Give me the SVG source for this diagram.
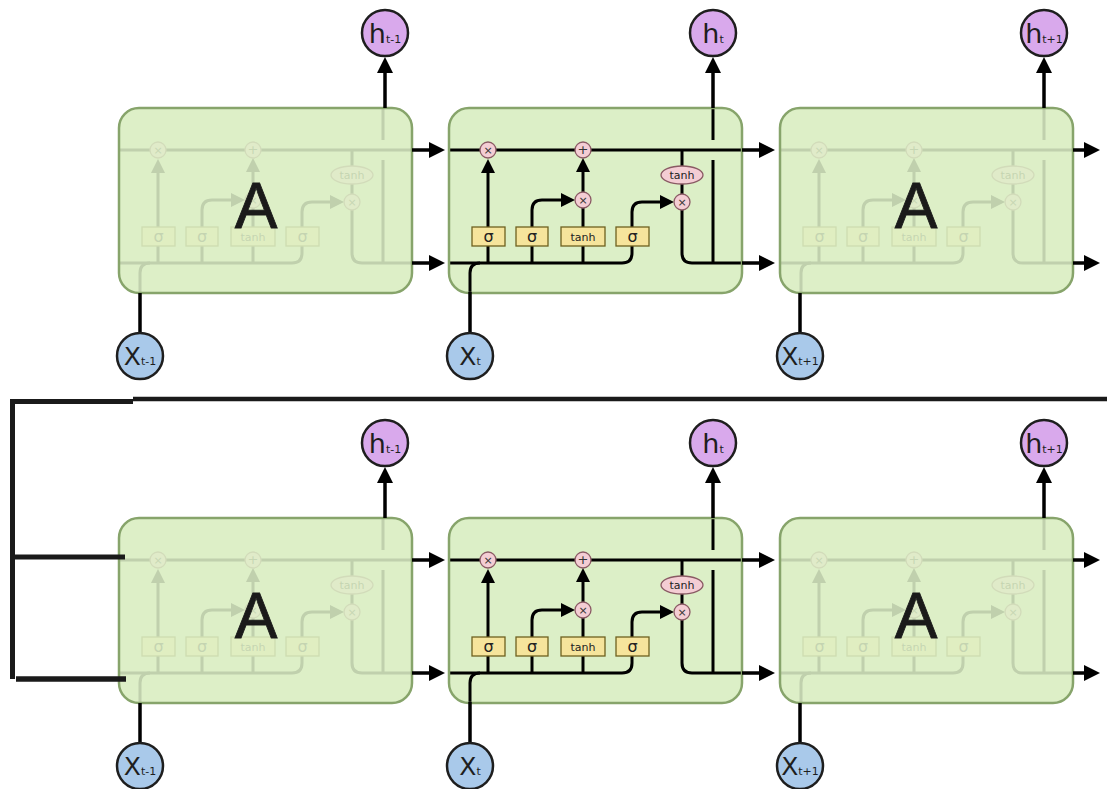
<svg xmlns="http://www.w3.org/2000/svg" xmlns:xlink="http://www.w3.org/1999/xlink" width="1107" height="789" viewBox="0 0 1107 789">
<style>
.ln{fill:none;stroke:#000;stroke-width:3}
.cellbg{fill:#dcefc7;stroke:none}
.cellfr{fill:#dcefc7;fill-opacity:0.87;stroke:#87a46b;stroke-width:2.5}
.cellst{fill:none;stroke:#87a46b;stroke-width:2.5}
.op{fill:#f4cdd4;stroke:#8a5a64;stroke-width:1.3}
.gate{fill:#f6e49c;stroke:#6e6020;stroke-width:1.3}
.opt{font-family:"DejaVu Sans",sans-serif;font-size:11px;fill:#333;text-anchor:middle}
.gt{font-family:"DejaVu Sans",sans-serif;font-size:16px;fill:#222;text-anchor:middle}
.tt{font-family:"DejaVu Sans",sans-serif;font-size:11px;fill:#222;text-anchor:middle}
.hc{fill:#d9a9ec;stroke:#1e1e1e;stroke-width:2.5}
.xc{fill:#a9c9ea;stroke:#1e1e1e;stroke-width:2.5}
.big{font-family:"DejaVu Sans",sans-serif;font-size:27px;fill:#1e1e1e;text-anchor:middle}
.bigx{font-family:"DejaVu Sans",sans-serif;font-size:25px;fill:#1e1e1e;text-anchor:middle}
.sub{font-size:11px}
.A{font-family:"Liberation Sans",Arial,sans-serif;font-size:64px;fill:#1a1a1a;text-anchor:middle;stroke:#1a1a1a;stroke-width:0.8}
.con{fill:none;stroke:#000;stroke-width:3.5}
.brk{fill:none;stroke:#1a1a1a;stroke-width:5}
</style>
<defs>
<marker id="ai" viewBox="0 0 14 14" refX="0" refY="7" markerWidth="14" markerHeight="14" markerUnits="userSpaceOnUse" orient="auto"><path d="M0,0 L14,7 L0,14 z" fill="#000"/></marker>
<marker id="ao" viewBox="0 0 16 16" refX="0" refY="8" markerWidth="16" markerHeight="16" markerUnits="userSpaceOnUse" orient="auto"><path d="M0,0 L16,8 L0,16 z" fill="#000"/></marker>
<g id="core">
<g class="ln">
<path d="M449,150 H742"/>
<path d="M449,263 H622 Q632,263 632,253 V246"/>
<path d="M488,263 V246 M532,263 V246 M583,263 V246"/>
<path d="M470,292 V273 Q470,263 480,263"/>
<path d="M488,227 V173" marker-end="url(#ai)"/>
<path d="M532,227 V210 Q532,200 542,200 H561" marker-end="url(#ai)"/>
<path d="M583,227 V208"/>
<path d="M583,192 V172" marker-end="url(#ai)"/>
<path d="M632,227 V212 Q632,202 642,202 H660" marker-end="url(#ai)"/>
<path d="M682,150 V166 M682,184 V194"/>
<path d="M682,210 V253 Q682,263 692,263 H742"/>
<path d="M713,108 V140 M713,160 V263"/>
</g>
<circle class="op" cx="488" cy="150" r="8"/>
<circle class="op" cx="583" cy="150" r="8"/>
<circle class="op" cx="583" cy="200" r="8"/>
<circle class="op" cx="682" cy="202" r="8"/>
<ellipse class="op" cx="682" cy="175" rx="21" ry="9"/>
<text class="opt" x="488" y="154">×</text>
<text class="opt" x="583" y="154" style="font-size:13px">+</text>
<text class="opt" x="583" y="204">×</text>
<text class="opt" x="682" y="206">×</text>
<text class="tt" x="682" y="179">tanh</text>
<rect class="gate" x="472" y="227" width="33" height="19"/>
<rect class="gate" x="516" y="227" width="32" height="19"/>
<rect class="gate" x="561" y="227" width="44" height="19"/>
<rect class="gate" x="616" y="227" width="33" height="19"/>
<text class="gt" x="488.5" y="242">σ</text>
<text class="gt" x="532" y="242">σ</text>
<text class="tt" x="583" y="241">tanh</text>
<text class="gt" x="632.5" y="242">σ</text>
</g>
</defs>

<g id="cell-top-1">
<rect class="cellbg" x="119" y="108" width="293" height="185" rx="20"/>
<use href="#core" x="-330" y="0"/>
<rect class="cellfr" x="119" y="108" width="293" height="185" rx="20"/>
<text class="A" x="256" y="228">A</text>
</g>
<g id="cell-top-2">
<rect class="cellbg" x="449" y="108" width="293" height="185" rx="20"/>
<use href="#core"/>
<rect class="cellst" x="449" y="108" width="293" height="185" rx="20"/>
</g>
<g id="cell-top-3">
<rect class="cellbg" x="780" y="108" width="293" height="185" rx="20"/>
<use href="#core" x="331" y="0"/>
<rect class="cellfr" x="780" y="108" width="293" height="185" rx="20"/>
<text class="A" x="916" y="228">A</text>
</g>

<g id="cell-bot-1">
<rect class="cellbg" x="119" y="518" width="293" height="185" rx="20"/>
<use href="#core" x="-330" y="410"/>
<rect class="cellfr" x="119" y="518" width="293" height="185" rx="20"/>
<text class="A" x="256" y="638">A</text>
</g>
<g id="cell-bot-2">
<rect class="cellbg" x="449" y="518" width="293" height="185" rx="20"/>
<use href="#core" x="0" y="410"/>
<rect class="cellst" x="449" y="518" width="293" height="185" rx="20"/>
</g>
<g id="cell-bot-3">
<rect class="cellbg" x="780" y="518" width="293" height="185" rx="20"/>
<use href="#core" x="331" y="410"/>
<rect class="cellfr" x="780" y="518" width="293" height="185" rx="20"/>
<text class="A" x="916" y="638">A</text>
</g>

<g id="connectors">
<path class="con" d="M412,150 H429" marker-end="url(#ao)"/>
<path class="con" d="M742,150 H759" marker-end="url(#ao)"/>
<path class="con" d="M1073,150 H1084" marker-end="url(#ao)"/>
<path class="con" d="M412,263 H429" marker-end="url(#ao)"/>
<path class="con" d="M742,263 H759" marker-end="url(#ao)"/>
<path class="con" d="M1073,263 H1084" marker-end="url(#ao)"/>
<path class="con" d="M385,108 V73" marker-end="url(#ao)"/>
<path class="con" d="M713,108 V73" marker-end="url(#ao)"/>
<path class="con" d="M1044,108 V73" marker-end="url(#ao)"/>
<path class="con" d="M140,293 V333"/>
<path class="con" d="M470,292 V333"/>
<path class="con" d="M800,293 V333"/>

<path class="con" d="M412,560 H429" marker-end="url(#ao)"/>
<path class="con" d="M742,560 H759" marker-end="url(#ao)"/>
<path class="con" d="M1073,560 H1084" marker-end="url(#ao)"/>
<path class="con" d="M412,673 H429" marker-end="url(#ao)"/>
<path class="con" d="M742,673 H759" marker-end="url(#ao)"/>
<path class="con" d="M1073,673 H1084" marker-end="url(#ao)"/>
<path class="con" d="M385,518 V483" marker-end="url(#ao)"/>
<path class="con" d="M713,518 V483" marker-end="url(#ao)"/>
<path class="con" d="M1044,518 V483" marker-end="url(#ao)"/>
<path class="con" d="M140,703 V743"/>
<path class="con" d="M470,702 V743"/>
<path class="con" d="M800,703 V743"/>

<path class="brk" d="M10,401.5 H133"/>
<path class="brk" d="M133,399 H1107" style="stroke-width:4.5"/>
<path class="brk" d="M12.5,399 V679"/>
<path class="brk" d="M12,557 H125"/>
<path class="brk" d="M16,679 H126" style="stroke-width:5.5"/>
</g>

<g id="h-top-1"><circle class="hc" cx="385" cy="33" r="23"/><text class="big" x="385" y="43">h<tspan class="sub">t-1</tspan></text></g>
<g id="h-top-2"><circle class="hc" cx="713" cy="33" r="23"/><text class="big" x="713" y="43">h<tspan class="sub">t</tspan></text></g>
<g id="h-top-3"><circle class="hc" cx="1044" cy="33" r="23"/><text class="big" x="1044" y="43">h<tspan class="sub">t+1</tspan></text></g>
<g id="x-top-1"><circle class="xc" cx="140" cy="356" r="23"/><text class="bigx" x="140" y="365">X<tspan class="sub">t-1</tspan></text></g>
<g id="x-top-2"><circle class="xc" cx="470" cy="356" r="23"/><text class="bigx" x="470" y="365">X<tspan class="sub">t</tspan></text></g>
<g id="x-top-3"><circle class="xc" cx="800" cy="356" r="23"/><text class="bigx" x="800" y="365">X<tspan class="sub">t+1</tspan></text></g>

<g id="h-bot-1"><circle class="hc" cx="385" cy="443" r="23"/><text class="big" x="385" y="453">h<tspan class="sub">t-1</tspan></text></g>
<g id="h-bot-2"><circle class="hc" cx="713" cy="443" r="23"/><text class="big" x="713" y="453">h<tspan class="sub">t</tspan></text></g>
<g id="h-bot-3"><circle class="hc" cx="1044" cy="443" r="23"/><text class="big" x="1044" y="453">h<tspan class="sub">t+1</tspan></text></g>
<g id="x-bot-1"><circle class="xc" cx="140" cy="766" r="23"/><text class="bigx" x="140" y="775">X<tspan class="sub">t-1</tspan></text></g>
<g id="x-bot-2"><circle class="xc" cx="470" cy="766" r="23"/><text class="bigx" x="470" y="775">X<tspan class="sub">t</tspan></text></g>
<g id="x-bot-3"><circle class="xc" cx="800" cy="766" r="23"/><text class="bigx" x="800" y="775">X<tspan class="sub">t+1</tspan></text></g>
</svg>
